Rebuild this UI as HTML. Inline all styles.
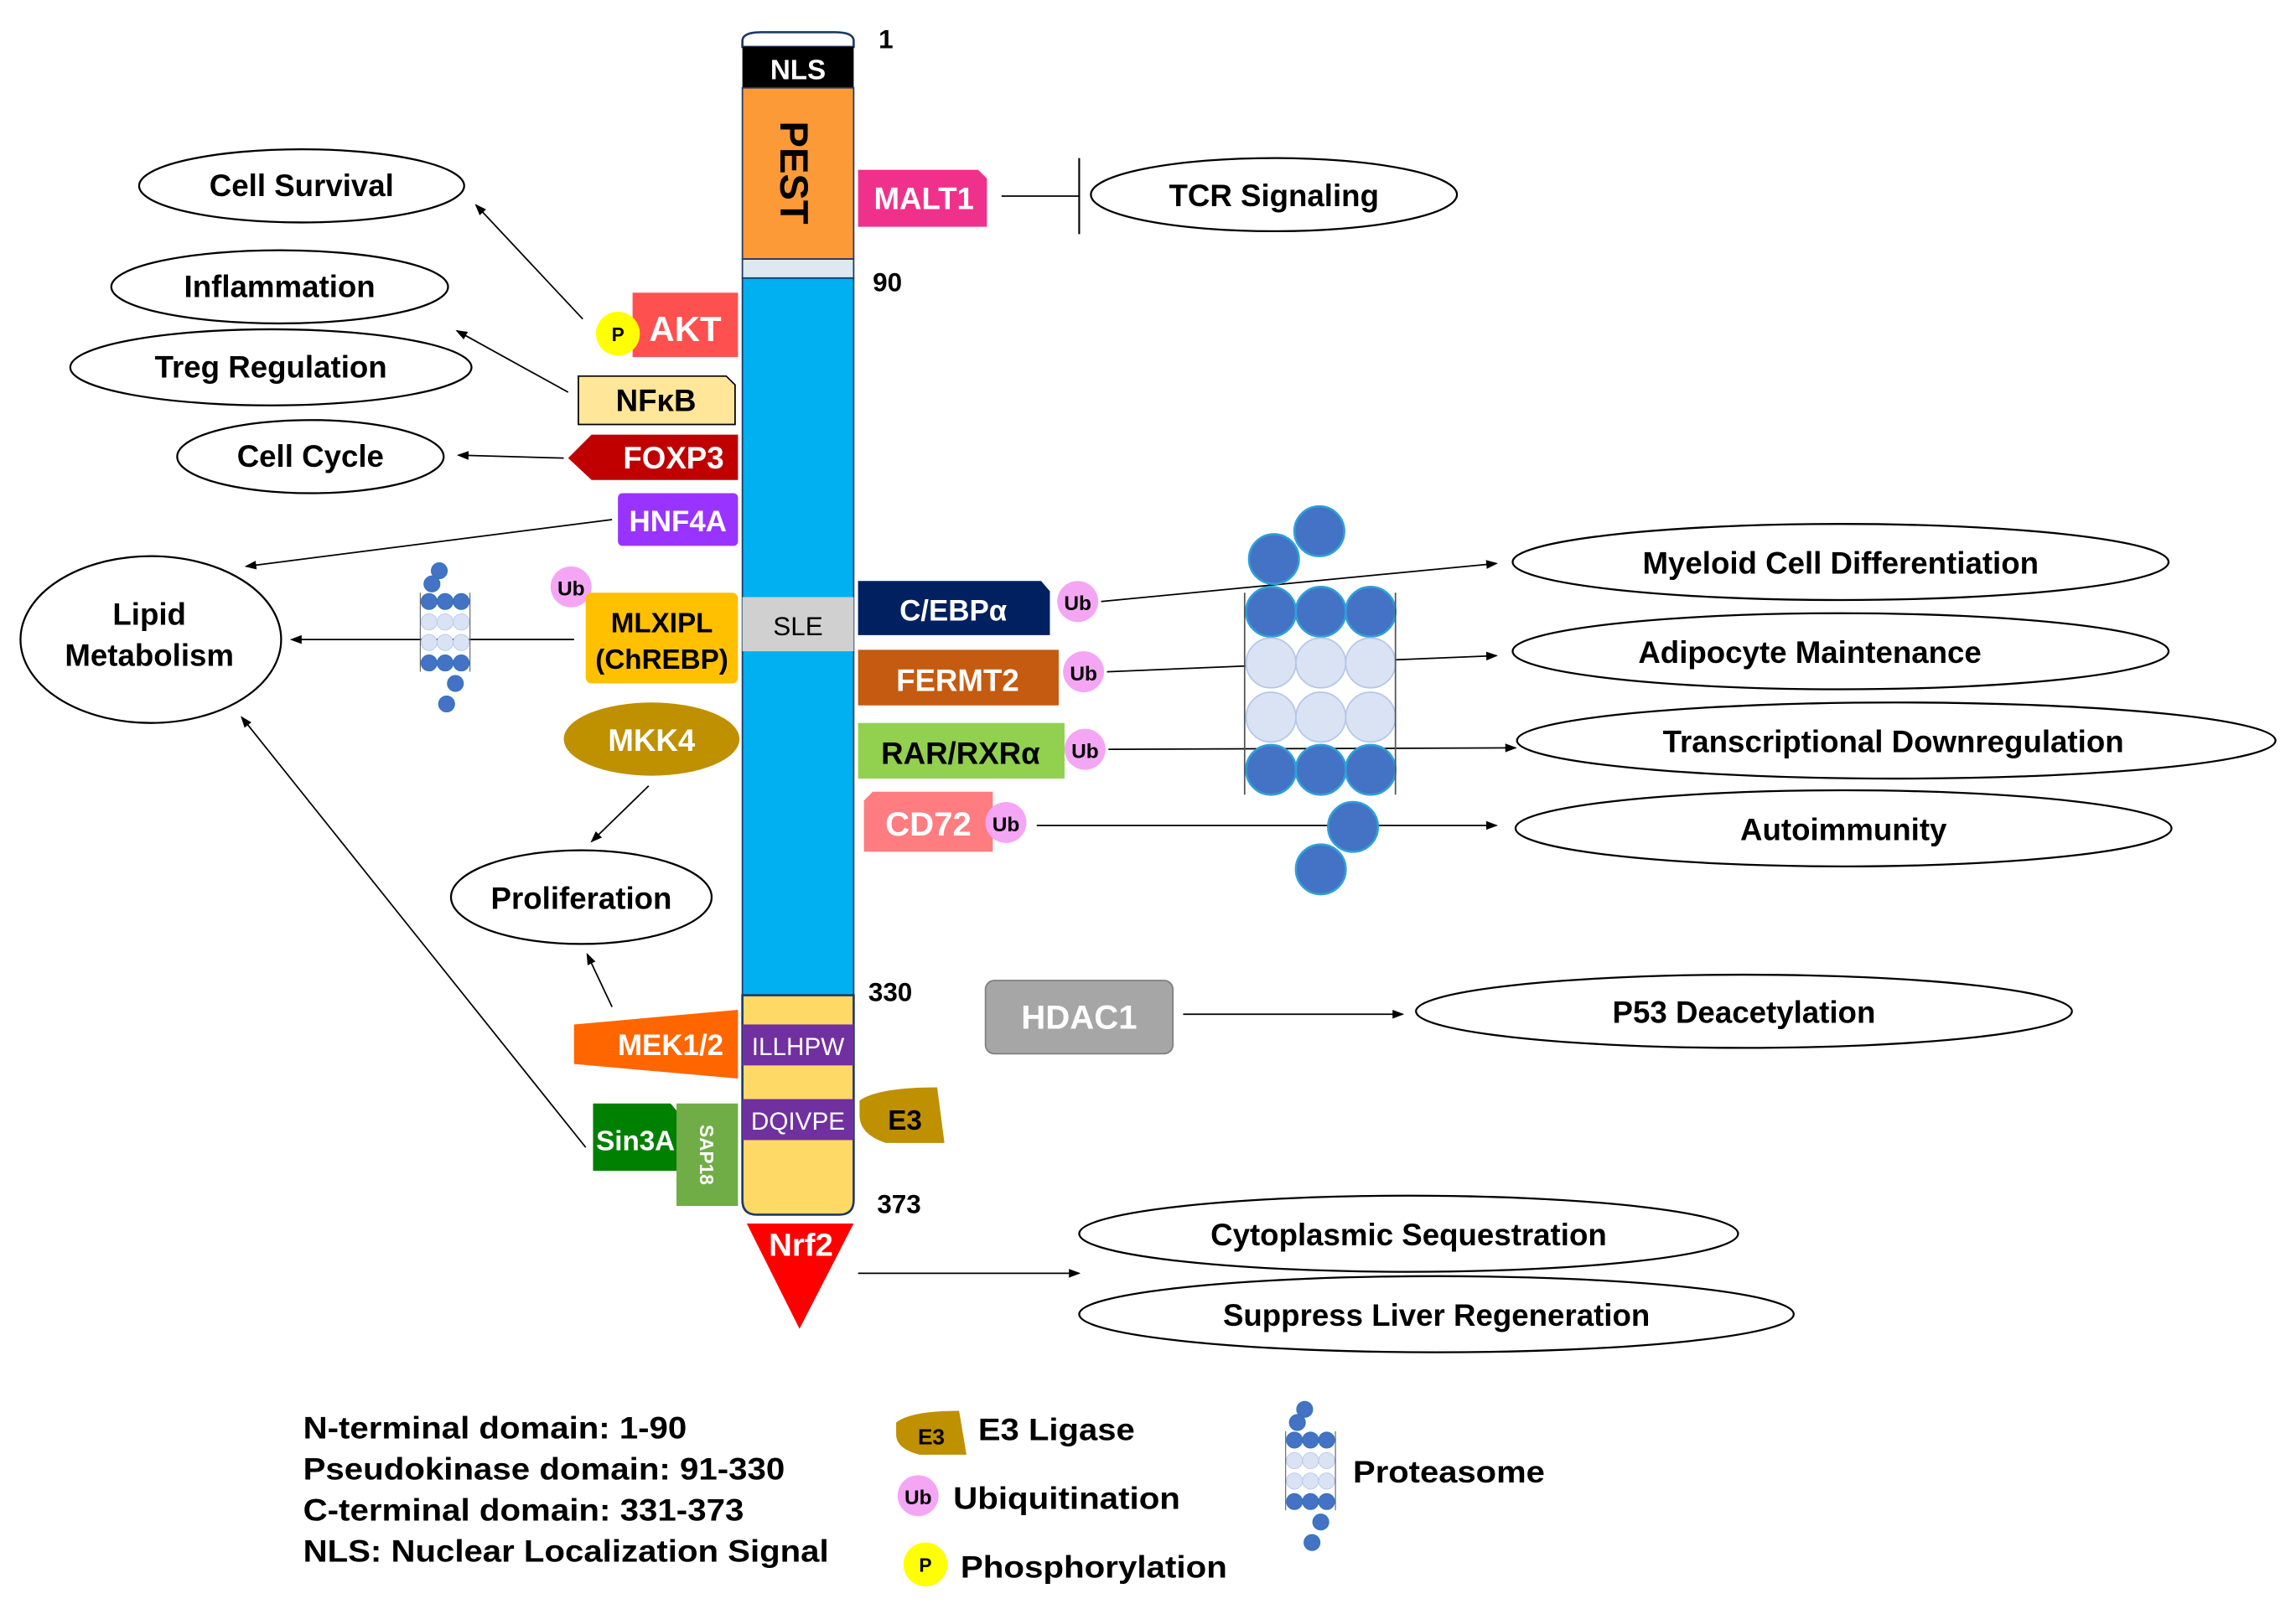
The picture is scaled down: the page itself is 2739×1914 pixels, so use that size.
<!DOCTYPE html>
<html><head><meta charset="utf-8"><style>
html,body{margin:0;padding:0;background:#fff}
svg{display:block}
text{font-family:"Liberation Sans",Arial,sans-serif;font-weight:bold}
</style></head><body>
<svg width="2739" height="1914" viewBox="0 0 1568 1096" preserveAspectRatio="none" xmlns="http://www.w3.org/2000/svg">
<defs>
<marker id="a" markerWidth="8" markerHeight="8" refX="7" refY="4" orient="auto" markerUnits="userSpaceOnUse"><path d="M0,1 L8,4 L0,7 z" fill="#000"/></marker>
<g id="prot">
<g fill="#4472c4" stroke="#2e75b6" stroke-width="0.5">
<circle cx="13" cy="5" r="5.5"/><circle cx="8" cy="14" r="5.5"/>
<circle cx="6" cy="26" r="5.5"/><circle cx="17" cy="26" r="5.5"/><circle cx="28" cy="26" r="5.5"/>
<circle cx="6" cy="68" r="5.5"/><circle cx="17" cy="68" r="5.5"/><circle cx="28" cy="68" r="5.5"/>
<circle cx="24" cy="82" r="5.5"/><circle cx="18" cy="96" r="5.5"/></g>
<g fill="#dae3f3" stroke="#b4c7e7" stroke-width="0.5">
<circle cx="6" cy="40" r="5.5"/><circle cx="17" cy="40" r="5.5"/><circle cx="28" cy="40" r="5.5"/>
<circle cx="6" cy="54" r="5.5"/><circle cx="17" cy="54" r="5.5"/><circle cx="28" cy="54" r="5.5"/></g>
<line x1="0" y1="20" x2="0" y2="74" stroke="#555" stroke-width="0.6"/><line x1="34" y1="20" x2="34" y2="74" stroke="#555" stroke-width="0.6"/>
</g>
</defs>
<g fill="none" stroke="#000" stroke-width="1.3">
<ellipse cx="206" cy="127" rx="111" ry="25"/>
<ellipse cx="191" cy="196" rx="115" ry="25"/>
<ellipse cx="185" cy="251" rx="137" ry="26"/>
<ellipse cx="212" cy="312" rx="91" ry="25"/>
<ellipse cx="103" cy="437" rx="89" ry="57"/>
<ellipse cx="397" cy="613" rx="89" ry="32"/>
<ellipse cx="870" cy="133" rx="125" ry="25"/>
<ellipse cx="1257" cy="384" rx="224" ry="26"/>
<ellipse cx="1257" cy="445" rx="224" ry="26"/>
<ellipse cx="1295" cy="506" rx="259" ry="26"/>
<ellipse cx="1259" cy="566" rx="224" ry="26"/>
<ellipse cx="1191" cy="691" rx="224" ry="25"/>
<ellipse cx="962" cy="843" rx="225" ry="26"/>
<ellipse cx="981" cy="898" rx="244" ry="26"/>
</g>
<g font-size="21" text-anchor="middle" fill="#000">
<text x="206" y="134">Cell Survival</text>
<text x="191" y="203">Inflammation</text>
<text x="185" y="258">Treg Regulation</text>
<text x="212" y="319">Cell Cycle</text>
<text x="102" y="427">Lipid</text><text x="102" y="455">Metabolism</text>
<text x="397" y="621">Proliferation</text>
<text x="870" y="141">TCR Signaling</text>
<text x="1257" y="392">Myeloid Cell Differentiation</text>
<text x="1236" y="453">Adipocyte Maintenance</text>
<text x="1293" y="514">Transcriptional Downregulation</text>
<text x="1259" y="574">Autoimmunity</text>
<text x="1191" y="699">P53 Deacetylation</text>
<text x="962" y="851">Cytoplasmic Sequestration</text>
<text x="981" y="906">Suppress Liver Regeneration</text>
</g>
<g stroke="#000" stroke-width="1" marker-end="url(#a)">
<line x1="398" y1="218" x2="325" y2="140"/>
<line x1="388" y1="268" x2="312" y2="226"/>
<line x1="385" y1="313" x2="313" y2="311"/>
<line x1="418" y1="355" x2="168" y2="387"/>
<line x1="392" y1="437" x2="199" y2="437"/>
<line x1="443" y1="537" x2="404" y2="575"/>
<line x1="418" y1="688" x2="401" y2="652"/>
<line x1="400" y1="784" x2="165" y2="490"/>
<line x1="752" y1="411" x2="1022" y2="385"/>
<line x1="756" y1="459" x2="1022" y2="448"/>
<line x1="757" y1="512" x2="1035" y2="511"/>
<line x1="708" y1="564" x2="1022" y2="564"/>
<line x1="808" y1="693" x2="958" y2="693"/>
<line x1="586" y1="870" x2="737" y2="870"/>
</g>
<line x1="684" y1="134" x2="737" y2="134" stroke="#000"/>
<line x1="737" y1="108" x2="737" y2="160" stroke="#000" stroke-width="1.2"/>
<path d="M507,32 L507,28 Q507,22 520,22 L570,22 Q583,22 583,28 L583,32 Z" fill="#fff" stroke="#1f3864" stroke-width="1.5"/>
<rect x="507" y="32" width="76" height="28" fill="#000"/>
<text x="545" y="54" font-size="19" fill="#fff" text-anchor="middle">NLS</text>
<rect x="507" y="60" width="76" height="117" fill="#fb9a37" stroke="#1f3864" stroke-width="1"/>
<text transform="translate(533,118) rotate(90)" font-size="27" fill="#000" text-anchor="middle">PEST</text>
<rect x="507" y="177" width="76" height="13" fill="#dde8f0" stroke="#1f3864" stroke-width="1"/>
<rect x="507" y="190" width="76" height="490" fill="#00b0f0" stroke="#1f3864" stroke-width="1"/>
<rect x="507" y="408" width="76" height="37" fill="#d0d0d0"/>
<text x="545" y="434" font-size="18" style="font-weight:normal" text-anchor="middle">SLE</text>
<path d="M507,680 L583,680 L583,820 Q583,830 573,830 L517,830 Q507,830 507,820 Z" fill="#ffd966" stroke="#1f3864" stroke-width="1.5"/>
<rect x="507" y="700" width="76" height="28" fill="#7030a0"/>
<text x="545" y="721" font-size="17" fill="#fff" text-anchor="middle" style="font-weight:normal">ILLHPW</text>
<rect x="507" y="751" width="76" height="28" fill="#7030a0"/>
<text x="545" y="772" font-size="17" fill="#fff" text-anchor="middle" style="font-weight:normal">DQIVPE</text>
<g font-size="18" fill="#000"><text x="600" y="33">1</text><text x="596" y="199">90</text><text x="593" y="684">330</text><text x="599" y="829">373</text></g>
<path d="M510,836 L583,836 L546,908 Z" fill="#ff0000"/>
<text x="547" y="858" font-size="22" fill="#fff" text-anchor="middle">Nrf2</text>
<rect x="432" y="200" width="72" height="44" fill="#ff5050"/>
<text x="468" y="233" font-size="24" fill="#fff" text-anchor="middle">AKT</text>
<circle cx="422" cy="228" r="15" fill="#ffff00"/><text x="422" y="233" font-size="13" text-anchor="middle">P</text>
<path d="M395,257 L496,257 L502,263 L502,290 L395,290 Z" fill="#ffe699" stroke="#000" stroke-width="1"/>
<text x="448" y="281" font-size="21" text-anchor="middle">NFκB</text>
<path d="M404,297 L504,297 L504,328 L404,328 L388,313 Z" fill="#c00000"/>
<text x="460" y="320" font-size="21" fill="#fff" text-anchor="middle">FOXP3</text>
<rect x="422" y="337" width="82" height="36" rx="3" fill="#9933ff"/>
<text x="463" y="363" font-size="20" fill="#fff" text-anchor="middle">HNF4A</text>
<use href="#prot" x="287" y="385"/>
<line x1="322" y1="437" x2="392" y2="437" stroke="#000"/>
<circle cx="390" cy="401" r="14" fill="#f4a6f4"/><text x="390" y="407" font-size="14" text-anchor="middle">Ub</text>
<rect x="400" y="405" width="104" height="62" rx="4" fill="#ffc000"/>
<text x="452" y="432" font-size="19" text-anchor="middle">MLXIPL</text><text x="452" y="457" font-size="19" text-anchor="middle">(ChREBP)</text>
<ellipse cx="445" cy="505" rx="60" ry="25" fill="#bf9000"/>
<text x="445" y="513" font-size="21" fill="#fff" text-anchor="middle">MKK4</text>
<path d="M392,700 L504,690 L504,737 L392,727 Z" fill="#ff6600"/>
<text x="458" y="721" font-size="20" fill="#fff" text-anchor="middle">MEK1/2</text>
<path d="M405,754 L458,754 L463,760 L463,800 L405,800 Z" fill="#008000"/>
<text x="434" y="786" font-size="19" fill="#fff" text-anchor="middle">Sin3A</text>
<rect x="462" y="754" width="42" height="70" fill="#70ad47"/>
<text transform="translate(478,789) rotate(90)" font-size="13" fill="#fff" text-anchor="middle">SAP18</text>
<path d="M587,752 Q600,743 640,743 L645,781 L605,781 Q587,775 587,762 Z" fill="#bf9000"/>
<text x="618" y="772" font-size="19" text-anchor="middle">E3</text>
<path d="M586,116 L668,116 L674,122 L674,155 L586,155 Z" fill="#f0318c"/>
<text x="631" y="143" font-size="21" fill="#fff" text-anchor="middle">MALT1</text>
<path d="M586,397 L711,397 L717,404 L717,434 L586,434 Z" fill="#002060"/>
<text x="651" y="424" font-size="20" fill="#fff" text-anchor="middle">C/EBPα</text>
<circle cx="736" cy="411" r="14" fill="#f4a6f4"/><text x="736" y="417" font-size="14" text-anchor="middle">Ub</text>
<rect x="586" y="444" width="137" height="38" fill="#c55a11"/>
<text x="654" y="472" font-size="21" fill="#fff" text-anchor="middle">FERMT2</text>
<circle cx="740" cy="459" r="14" fill="#f4a6f4"/><text x="740" y="465" font-size="14" text-anchor="middle">Ub</text>
<rect x="586" y="494" width="141" height="38" fill="#92d050"/>
<text x="656" y="522" font-size="21" text-anchor="middle">RAR/RXRα</text>
<circle cx="741" cy="512" r="14" fill="#f4a6f4"/><text x="741" y="518" font-size="14" text-anchor="middle">Ub</text>
<path d="M596,541 L678,541 L678,582 L590,582 L590,547 Z" fill="#ff7c80"/>
<text x="634" y="571" font-size="23" fill="#fff" text-anchor="middle">CD72</text>
<circle cx="687" cy="562" r="14" fill="#f4a6f4"/><text x="687" y="568" font-size="14" text-anchor="middle">Ub</text>
<g fill="#4472c4" stroke="#2e9fd8" stroke-width="1.5">
<circle cx="870" cy="382" r="17"/><circle cx="901" cy="363" r="17"/>
<circle cx="868" cy="418" r="17"/><circle cx="902" cy="418" r="17"/><circle cx="936" cy="418" r="17"/>
<circle cx="868" cy="526" r="17"/><circle cx="902" cy="526" r="17"/><circle cx="936" cy="526" r="17"/>
<circle cx="924" cy="565" r="17"/><circle cx="902" cy="594" r="17"/></g>
<g fill="#dae3f3" stroke="#b4c7e7" stroke-width="1">
<circle cx="868" cy="453" r="17"/><circle cx="902" cy="453" r="17"/><circle cx="936" cy="453" r="17"/>
<circle cx="868" cy="490" r="17"/><circle cx="902" cy="490" r="17"/><circle cx="936" cy="490" r="17"/></g>
<line x1="850" y1="405" x2="850" y2="543" stroke="#555"/><line x1="953" y1="405" x2="953" y2="543" stroke="#555"/>
<rect x="673" y="670" width="128" height="50" rx="6" fill="#a6a6a6" stroke="#7f7f7f"/>
<text x="737" y="703" font-size="23" fill="#fff" text-anchor="middle">HDAC1</text>
<g font-size="21"><text x="207" y="983" textLength="262" lengthAdjust="spacingAndGlyphs">N-terminal domain: 1-90</text><text x="207" y="1011" textLength="329" lengthAdjust="spacingAndGlyphs">Pseudokinase domain: 91-330</text><text x="207" y="1039" textLength="301" lengthAdjust="spacingAndGlyphs">C-terminal domain: 331-373</text><text x="207" y="1067" textLength="359" lengthAdjust="spacingAndGlyphs">NLS: Nuclear Localization Signal</text>
<text x="668" y="984" textLength="107" lengthAdjust="spacingAndGlyphs">E3 Ligase</text><text x="651" y="1031" textLength="155" lengthAdjust="spacingAndGlyphs">Ubiquitination</text><text x="656" y="1078" textLength="182" lengthAdjust="spacingAndGlyphs">Phosphorylation</text><text x="924" y="1013" textLength="131" lengthAdjust="spacingAndGlyphs">Proteasome</text></g>
<path d="M612,972 Q622,964 655,964 L660,994 L628,994 Q612,990 612,980 Z" fill="#bf9000"/>
<text x="636" y="987" font-size="15" text-anchor="middle">E3</text>
<circle cx="627" cy="1022" r="14" fill="#f4a6f4"/><text x="627" y="1028" font-size="14" text-anchor="middle">Ub</text>
<circle cx="632" cy="1069" r="15" fill="#ffff00"/><text x="632" y="1074" font-size="13" text-anchor="middle">P</text>
<use href="#prot" x="878" y="958"/>
</svg>
</body></html>
